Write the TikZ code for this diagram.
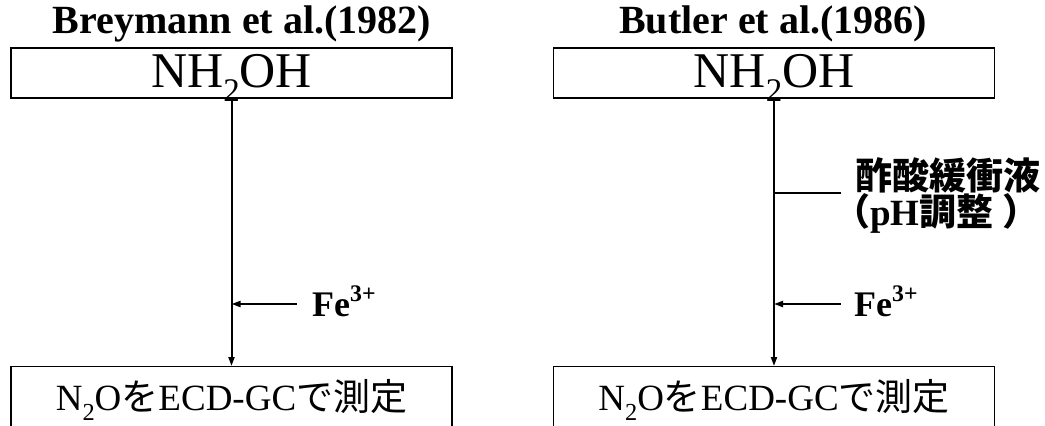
\documentclass[tikz,border=0pt]{standalone}
\usepackage{graphicx}
\usepackage{fontspec}
\setmainfont{Liberation Serif}
\newfontfamily\jpfont{Noto Sans CJK JP}
\usetikzlibrary{arrows.meta}
\newcommand\lowsub[1]{\raisebox{-0.28em}{\scalebox{0.66}{#1}}}
\newcommand\highsup[1]{\raisebox{0.42em}{\scalebox{0.66}{#1}}}
\begin{document}
\begin{tikzpicture}[x=1pt,y=-1pt,
  box/.style={draw,line width=1.2pt,inner sep=0pt,minimum width=441pt},
  topbox/.style={box,minimum height=50pt,text height=39pt,text depth=11pt,font=\fontsize{50}{54}\selectfont},
  botbox/.style={box,minimum height=80pt,text height=44pt,text depth=36pt,font=\fontsize{37}{40}\selectfont},
  flow/.style={line width=2pt,-{Triangle[length=9pt,width=6pt]}},
  plain/.style={line width=2pt},
  title/.style={font=\fontsize{40}{43}\selectfont\bfseries},
  reag/.style={font=\fontsize{36}{40}\selectfont\bfseries},
  jreag/.style={font=\fontsize{37}{40}\selectfont\bfseries\jpfont}]
\useasboundingbox (0,0) rectangle (1045,426);
\clip (0,0) rectangle (1045,426);
% left column
\node[title] (t1) at (242,24) {Breymann et al.(1982)};
\node[topbox] (a1) at (231.5,73) {NH\lowsub{2}OH};
\node[botbox,anchor=north] (c1) at (231.5,366) {N\lowsub{2}O{\jpfont を}ECD-GC{\jpfont で測定}};
\draw[flow] (a1.south) -- (c1.north);
\coordinate (f1) at (297,304);
\draw[flow] (f1) -- (f1 -| a1.south);
\node[reag,anchor=west,inner sep=0pt] (fe1) at (312,301) {Fe\highsup{3+}};
% right column
\node[title] (t2) at (773,24) {Butler et al.(1986)};
\node[topbox] (a2) at (774,73) {NH\lowsub{2}OH};
\node[botbox,anchor=north] (c2) at (774,366) {N\lowsub{2}O{\jpfont を}ECD-GC{\jpfont で測定}};
\draw[flow] (a2.south) -- (c2.north);
\coordinate (b2) at (841,193);
\draw[plain] (b2) -- (b2 -| a2.south);
\node[jreag,anchor=west,inner sep=0pt] (buf) at (855,175) {酢酸緩衝液};
\node[jreag,anchor=west,inner sep=0pt] (ph) at (833,213) {（{\fontspec{Liberation Serif}\bfseries pH}調整 ）};
\coordinate (f2) at (841,304);
\draw[flow] (f2) -- (f2 -| a2.south);
\node[reag,anchor=west,inner sep=0pt] (fe2) at (854,301) {Fe\highsup{3+}};
\end{tikzpicture}
\end{document}
